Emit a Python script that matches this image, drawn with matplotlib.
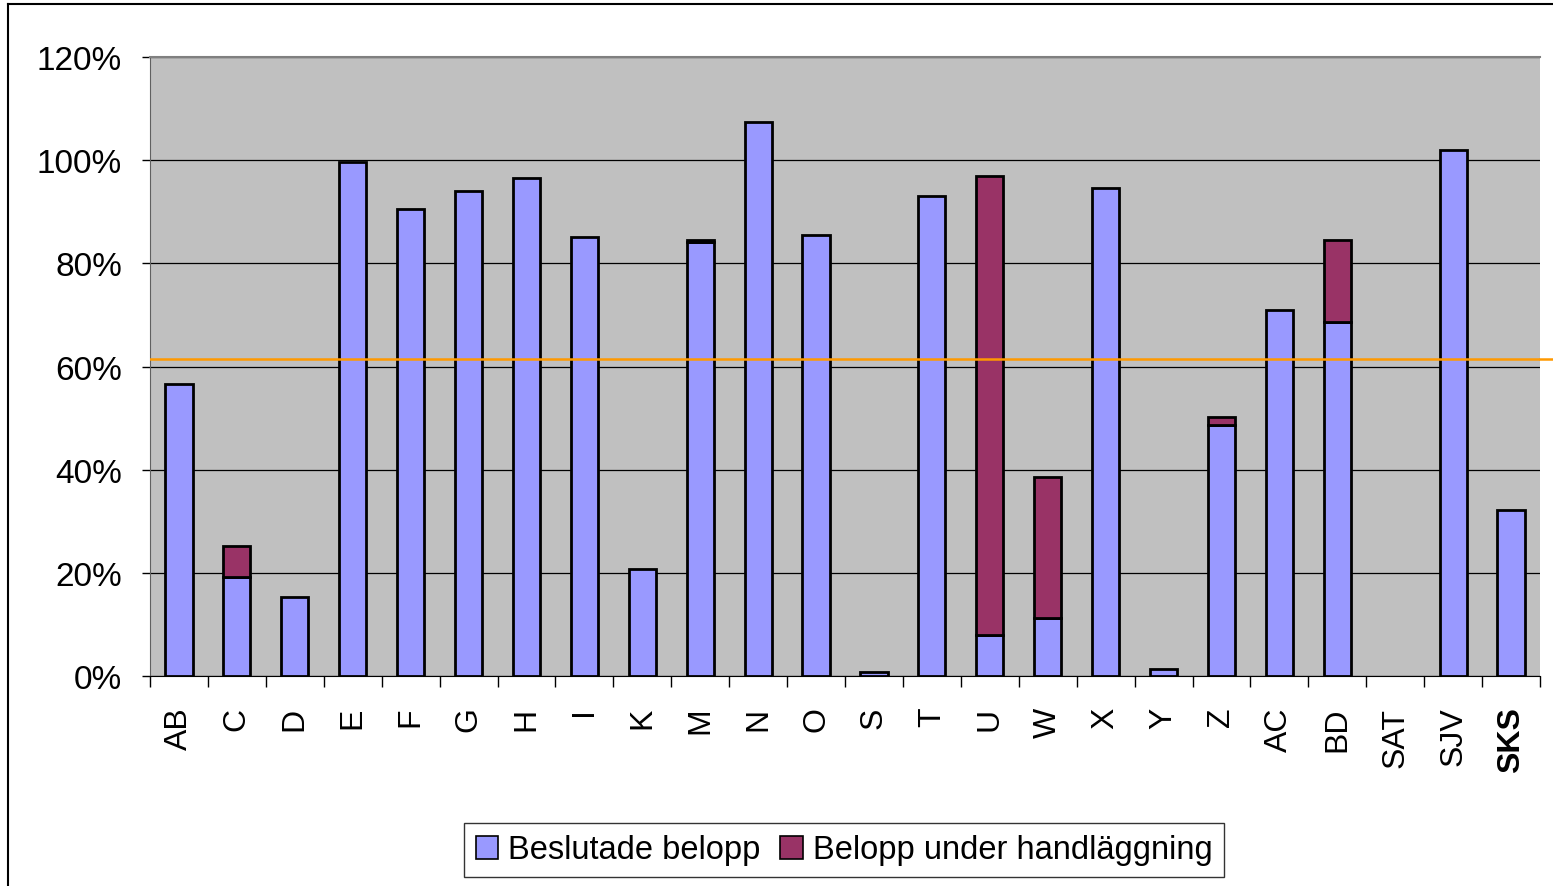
import matplotlib
matplotlib.use("Agg")
import matplotlib.pyplot as plt
from matplotlib.lines import Line2D
from matplotlib.patches import Patch
import numpy as np

categories = ["AB", "C", "D", "E", "F", "G", "H", "I", "K", "M", "N", "O", "S", "T",
              "U", "W", "X", "Y", "Z", "AC", "BD", "SAT", "SJV", "SKS"]
beslutade = [56.6, 19.2, 15.3, 99.6, 90.5, 94.0, 96.5, 85.1, 20.7, 84.1, 107.4, 85.5, 0.8, 93.1,
             7.9, 11.2, 94.6, 1.4, 48.7, 71.0, 68.6, 0.0, 102.0, 32.2]
under_handlaggning = [0.0, 6.0, 0.0, 0.0, 0.0, 0.0, 0.0, 0.0, 0.0, 0.4, 0.0, 0.0, 0.0, 0.0,
                      89.0, 27.4, 0.0, 0.0, 1.5, 0.0, 15.9, 0.0, 0.0, 0.0]
reference_level = 61.5
y_ticks = [0, 20, 40, 60, 80, 100, 120]
series_names = ["Beslutade belopp", "Belopp under handläggning"]

plt.rcParams['font.family'] = ['Liberation Sans', 'DejaVu Sans']

W, H = 1553, 887
fig = plt.figure(figsize=(W / 100, H / 100), dpi=100)
ax = fig.add_axes([150 / W, 1 - 677 / H, (1540 - 150) / W, (677 - 58) / H])
ax.set_facecolor("#C0C0C0")

x = np.arange(len(categories))
blue = "#9999FF"
maroon = "#993366"
b1 = ax.bar(x, beslutade, width=0.47, color=blue, edgecolor="black", linewidth=2.0, zorder=3)
b2 = ax.bar(x, under_handlaggning, width=0.47, bottom=beslutade, color=maroon,
            edgecolor="black", linewidth=2.0, zorder=3)
for bars in (b1, b2):
    for r in bars:
        if r.get_height() == 0:
            r.set_visible(False)

ax.set_xlim(-0.5, len(categories) - 0.5)
ax.set_ylim(0, 120)
ax.set_yticks(y_ticks)
ax.set_yticklabels([f"{v}%" for v in y_ticks], fontsize=24)
ax.yaxis.grid(True, color="black", linewidth=0.9, zorder=1)
ax.set_axisbelow(True)

ax.set_xticks(x)
ax.set_xticklabels(categories, rotation=90, fontsize=23)
ax.get_xticklabels()[-1].set_fontweight("bold")
ax.tick_params(axis="x", which="major", length=0, pad=22)
ax.set_xticks(np.arange(-0.5, len(categories), 1.0), minor=True)
ax.tick_params(axis="x", which="minor", length=8, width=1, direction="out")
ax.tick_params(axis="y", length=6, width=1, direction="out", pad=14)

for s in ["top", "right"]:
    ax.spines[s].set_color("#808080")
    ax.spines[s].set_linewidth(1.5)
ax.spines["right"].set_visible(False)
ax.spines["left"].set_color("#606060")
ax.spines["bottom"].set_color("black")

ax.axhline(reference_level, color="#FF9900", linewidth=1.8, zorder=4)
ax.add_line(Line2D([len(categories) - 0.5, len(categories) - 0.2], [reference_level] * 2,
                   color="#FF9900", linewidth=1.8, clip_on=False))

# outer chart frame
fig.add_artist(Line2D([8 / W, 8 / W], [0, 1 - 5 / H], transform=fig.transFigure,
                      color="black", linewidth=1.5))
fig.add_artist(Line2D([8 / W, 1], [1 - 5 / H, 1 - 5 / H], transform=fig.transFigure,
                      color="black", linewidth=1.5))

handles = [Patch(facecolor=blue, edgecolor="black", linewidth=1.2),
           Patch(facecolor=maroon, edgecolor="black", linewidth=1.2)]
leg = fig.legend(handles, series_names, loc="center", bbox_to_anchor=(844 / W, 1 - 851 / H),
                 ncol=2, fontsize=23.5, frameon=True, fancybox=False, edgecolor="black",
                 handlelength=0.7, handleheight=0.7, handletextpad=0.3, columnspacing=0.6,
                 borderpad=0.35)
leg.get_frame().set_linewidth(1.0)

fig.savefig("out.png", dpi=100)
